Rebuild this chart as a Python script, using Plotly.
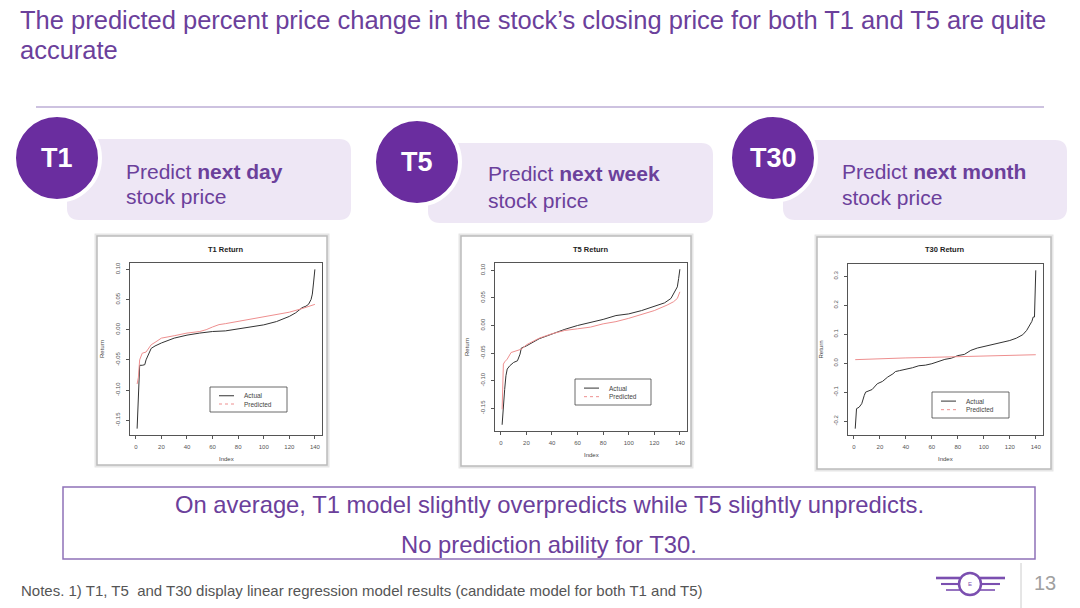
import plotly.graph_objects as go

W, H = 1080, 608
FONT = "Liberation Sans, Arial, Helvetica, sans-serif"
TXT_PURPLE = "#6b409b"
CIRCLE_PURPLE = "#6a2d9f"
PILL_FILL = "#eee7f5"
ACTUAL_COLOR = "#333333"
PRED_COLOR = "#ee8f8f"

# ---------------- data ----------------
t1_actual_idx = [1, 2, 3, 5, 7, 8, 10, 12, 15, 20, 30, 40, 50, 60, 70, 80, 90, 100, 110, 120,
                 125, 130, 133, 135, 137, 138, 139, 140]
t1_actual = [-0.164, -0.090, -0.059, -0.059, -0.058, -0.050, -0.039, -0.031, -0.027, -0.022,
             -0.014, -0.009, -0.0056, -0.003, -0.002, 0.001, 0.0045, 0.008, 0.0135, 0.022,
             0.028, 0.0365, 0.039, 0.042, 0.050, 0.059, 0.079, 0.100]
t1_pred_idx = [1, 2, 3, 5, 8, 10, 12, 15, 20, 30, 40, 50, 55, 60, 65, 70, 80, 90, 100, 110,
               120, 130, 135, 140]
t1_pred = [-0.090, -0.079, -0.050, -0.039, -0.037, -0.031, -0.025, -0.021, -0.014, -0.010,
           -0.0056, -0.003, 0.0, 0.0045, 0.0084, 0.010, 0.014, 0.018, 0.021, 0.025,
           0.029, 0.035, 0.038, 0.042]

t5_actual_idx = [1, 2, 3, 4, 5, 7, 10, 13, 15, 16, 20, 30, 40, 50, 60, 70, 80, 90, 100, 110,
                 120, 128, 133, 136, 138, 139, 140]
t5_actual = [-0.180, -0.140, -0.116, -0.091, -0.079, -0.073, -0.067, -0.064, -0.052, -0.041,
             -0.037, -0.024, -0.015, -0.007, 0.000, 0.005, 0.011, 0.018, 0.021, 0.027,
             0.035, 0.041, 0.049, 0.061, 0.070, 0.085, 0.102]
t5_pred_idx = [1, 2, 3, 5, 8, 12, 16, 20, 30, 40, 50, 60, 70, 80, 90, 100, 110, 120, 130, 135,
               138, 140]
t5_pred = [-0.152, -0.070, -0.066, -0.061, -0.049, -0.046, -0.043, -0.035, -0.023, -0.015,
           -0.009, -0.006, -0.003, 0.003, 0.007, 0.013, 0.0195, 0.027, 0.037, 0.043,
           0.049, 0.061]

t30_actual_idx = [1, 2, 4, 6, 8, 9, 14, 18, 22, 26, 30, 32, 35, 40, 45, 50, 55, 60, 65, 70,
                  75, 80, 85, 90, 95, 100, 110, 120, 125, 130, 133, 135, 137, 138, 139, 140]
t30_actual = [-0.226, -0.157, -0.152, -0.140, -0.111, -0.100, -0.091, -0.071, -0.063, -0.048,
              -0.037, -0.029, -0.026, -0.022, -0.016, -0.009, -0.007, -0.002, 0.006, 0.013,
              0.017, 0.026, 0.030, 0.044, 0.052, 0.057, 0.067, 0.078, 0.086, 0.098,
              0.113, 0.130, 0.144, 0.159, 0.159, 0.320]
t30_pred_idx = [1, 20, 40, 60, 80, 100, 120, 140]
t30_pred = [0.012, 0.016, 0.018, 0.020, 0.022, 0.024, 0.026, 0.029]

x_ticks = [0, 20, 40, 60, 80, 100, 120, 140]
y_ticks_small = [-0.15, -0.10, -0.05, 0.00, 0.05, 0.10]
y_ticklabels_small = ["-0.15", "-0.10", "-0.05", "0.00", "0.05", "0.10"]
y_ticks_t30 = [-0.2, -0.1, 0.0, 0.1, 0.2, 0.3]
y_ticklabels_t30 = ["-0.2", "-0.1", "0.0", "0.1", "0.2", "0.3"]

chart_titles = ["T1 Return", "T5 Return", "T30 Return"]
badges = ["T1", "T5", "T30"]
pill_bold = ["next day", "next week", "next month"]

title_line1 = "The predicted percent price change in the stock\u2019s closing price for both T1 and T5 are quite"
title_line2 = "accurate"
summary_line1 = "On average, T1 model slightly overpredicts while T5 slightly unpredicts."
summary_line2 = "No prediction ability for T30."
notes = "Notes. 1) T1, T5  and T30 display linear regression model results (candidate model for both T1 and T5)"
page_no = "13"


# ---------------- helpers (pixel -> paper) ----------------
def PX(x):
    return x / W


def PY(y):
    return 1 - y / H


def rrect_path(x0, y0, x1, y1, r):
    pts = [
        f"M {PX(x0 + r)},{PY(y0)}",
        f"L {PX(x1 - r)},{PY(y0)}",
        f"Q {PX(x1)},{PY(y0)} {PX(x1)},{PY(y0 + r)}",
        f"L {PX(x1)},{PY(y1 - r)}",
        f"Q {PX(x1)},{PY(y1)} {PX(x1 - r)},{PY(y1)}",
        f"L {PX(x0 + r)},{PY(y1)}",
        f"Q {PX(x0)},{PY(y1)} {PX(x0)},{PY(y1 - r)}",
        f"L {PX(x0)},{PY(y0 + r)}",
        f"Q {PX(x0)},{PY(y0)} {PX(x0 + r)},{PY(y0)}",
        "Z",
    ]
    return " ".join(pts)


shapes = []
annotations = []


def ann(text, x, y, size, color, xanchor="left", yanchor="middle", angle=0):
    annotations.append(dict(
        text=text, x=PX(x), y=PY(y), xref="paper", yref="paper",
        xanchor=xanchor, yanchor=yanchor, showarrow=False, textangle=angle,
        font=dict(family=FONT, size=size, color=color),
    ))


def rect(x0, y0, x1, y1, line_color, line_width, fill="rgba(0,0,0,0)", layer="below"):
    shapes.append(dict(type="rect", xref="paper", yref="paper",
                       x0=PX(x0), x1=PX(x1), y0=PY(y1), y1=PY(y0),
                       line=dict(color=line_color, width=line_width),
                       fillcolor=fill, layer=layer))


def line(x0, y0, x1, y1, color, width, dash="solid", layer="above"):
    shapes.append(dict(type="line", xref="paper", yref="paper",
                       x0=PX(x0), x1=PX(x1), y0=PY(y0), y1=PY(y1),
                       line=dict(color=color, width=width, dash=dash), layer=layer))


# ---------------- header ----------------
ann(title_line1, 18, 20, 25.5, TXT_PURPLE)
ann(title_line2, 18, 50, 25.5, TXT_PURPLE)
line(36, 107, 1044, 107, "#bcaed6", 1.5)

# ---------------- pills with badges ----------------
pill_boxes = [(67, 139, 351, 220), (428, 143, 713, 223), (783, 140, 1067, 220)]
circles = [(57, 158), (417, 162), (773, 158)]
pill_text_pos = [(126, 171, 196), (488, 174, 200), (842, 171, 197)]
for (bx0, by0, bx1, by1), (cx, cy), (tx, ty1, ty2), badge, bold in zip(
        pill_boxes, circles, pill_text_pos, badges, pill_bold):
    shapes.append(dict(type="path", xref="paper", yref="paper",
                       path=rrect_path(bx0, by0, bx1, by1, 12),
                       fillcolor=PILL_FILL, line=dict(width=0), layer="below"))
    r = 43
    shapes.append(dict(type="circle", xref="paper", yref="paper",
                       x0=PX(cx - r), x1=PX(cx + r), y0=PY(cy + r), y1=PY(cy - r),
                       fillcolor=CIRCLE_PURPLE, line=dict(color="white", width=4),
                       layer="below"))
    ann(f"<b>{badge}</b>", cx, cy, 27, "white", xanchor="center")
    ann(f"Predict <b>{bold}</b>", tx - 2, ty1, 21, TXT_PURPLE)
    ann("stock price", tx - 2, ty2, 21, TXT_PURPLE)

# ---------------- chart image boxes ----------------
img_boxes = [(97, 236, 327, 465), (461, 236, 691, 466), (817, 237, 1051, 469)]
for x0, y0, x1, y1 in img_boxes:
    rect(x0 - 1, y0 - 1, x1 + 1, y1 + 1, "#e6e6e6", 3)
    rect(x0, y0, x1, y1, "#bcbcbc", 1.5, fill="white")

# ---------------- small R-style plots ----------------
frames = [(130, 263, 322, 435), (495, 263, 687, 431), (848, 264, 1043, 435)]
series = [
    (t1_actual_idx, t1_actual, t1_pred_idx, t1_pred),
    (t5_actual_idx, t5_actual, t5_pred_idx, t5_pred),
    (t30_actual_idx, t30_actual, t30_pred_idx, t30_pred),
]
ytick_sets = [(y_ticks_small, y_ticklabels_small), (y_ticks_small, y_ticklabels_small),
              (y_ticks_t30, y_ticklabels_t30)]

fig = go.Figure()
layout_axes = {}
for i, ((fx0, fy0, fx1, fy1), (ax_i, ay, px_i, py), (yt, ytl)) in enumerate(
        zip(frames, series, ytick_sets)):
    n = i + 1
    xa = "x" if n == 1 else f"x{n}"
    ya = "y" if n == 1 else f"y{n}"
    fig.add_trace(go.Scatter(x=ax_i, y=ay, mode="lines", name="Actual",
                             line=dict(color=ACTUAL_COLOR, width=1),
                             xaxis=xa, yaxis=ya, showlegend=False))
    fig.add_trace(go.Scatter(x=px_i, y=py, mode="lines", name="Predicted",
                             line=dict(color=PRED_COLOR, width=1),
                             xaxis=xa, yaxis=ya, showlegend=False))
    # R default range: data range extended by 4%
    all_x = ax_i + px_i
    all_y = ay + py
    xmin, xmax = min(all_x), max(all_x)
    ymin, ymax = min(all_y), max(all_y)
    dx = (xmax - xmin) * 0.04
    dy = (ymax - ymin) * 0.04
    axis_common = dict(showline=True, mirror=True, linecolor="#555555", linewidth=1,
                       ticks="outside", ticklen=3, tickwidth=0.8, tickcolor="#555555",
                       showgrid=False, zeroline=False,
                       tickfont=dict(family=FONT, size=6, color="#555555"))
    layout_axes["xaxis" if n == 1 else f"xaxis{n}"] = dict(
        domain=[PX(fx0), PX(fx1)], anchor=ya, range=[xmin - dx, xmax + dx],
        tickmode="array", tickvals=x_ticks, ticktext=[str(v) for v in x_ticks],
        ticklabelstandoff=3, **axis_common)
    layout_axes["yaxis" if n == 1 else f"yaxis{n}"] = dict(
        domain=[PY(fy1), PY(fy0)], anchor=xa, range=[ymin - dy, ymax + dy],
        tickmode="array", tickvals=yt, ticktext=ytl, tickangle=-90,
        ticklabelstandoff=4, **axis_common)

    cxm = (fx0 + fx1) / 2
    ann(f"<b>{chart_titles[i]}</b>", cxm - 1, 249, 7.5, "#222222", xanchor="center")
    ann("Index", cxm, fy1 + 24, 6, "#444444", xanchor="center")
    ann("Return", fx0 - 28, (fy0 + fy1) / 2, 6, "#444444", xanchor="center", angle=-90)

# legends (R-style boxes)
legend_boxes = [(210, 387, 287, 412), (575, 379, 651, 405), (932, 392, 1009, 418)]
for lx0, ly0, lx1, ly1 in legend_boxes:
    rect(lx0, ly0, lx1, ly1, "#444444", 0.8, fill="white", layer="above")
    yA = ly0 + (ly1 - ly0) * 0.35
    yP = ly0 + (ly1 - ly0) * 0.68
    line(lx0 + 9, yA, lx0 + 24, yA, ACTUAL_COLOR, 1)
    line(lx0 + 9, yP, lx0 + 24, yP, PRED_COLOR, 1, dash="dot")
    ann("Actual", lx0 + 32, yA, 6.5, "#444444")
    ann("Predicted", lx0 + 32, yP, 6.5, "#444444")

# ---------------- summary box ----------------
rect(63, 487, 1035, 559, "#8e72b8", 1.5)
ann(summary_line1, 549, 504, 23.8, TXT_PURPLE, xanchor="center")
ann(summary_line2, 549, 544, 23.8, TXT_PURPLE, xanchor="center")

# ---------------- footer ----------------
ann(notes, 19, 590, 15, "#555555")
line(1021, 563, 1021, 608, "#cccccc", 1)
ann(page_no, 1045, 583, 20, "#a0a0a0", xanchor="center")

# logo: winged circle
lc_x, lc_y, lr = 970, 584, 11
for k, (yy, inset) in enumerate([(578, 0), (584, 5), (590, 10)]):
    line(936 + inset, yy, lc_x - lr + 1, yy, "#7b4fb0", 2.6 - k * 0.5)
    line(lc_x + lr - 1, yy, 1005 - inset, yy, "#7b4fb0", 2.6 - k * 0.5)
shapes.append(dict(type="circle", xref="paper", yref="paper",
                   x0=PX(lc_x - lr), x1=PX(lc_x + lr), y0=PY(lc_y + lr), y1=PY(lc_y - lr),
                   fillcolor="white", line=dict(color="#7b4fb0", width=2.5), layer="above"))
ann("E", lc_x, lc_y, 6, "#7b4fb0", xanchor="center")

fig.update_layout(
    width=W, height=H, margin=dict(l=0, r=0, t=0, b=0),
    paper_bgcolor="white", plot_bgcolor="rgba(0,0,0,0)",
    showlegend=False, shapes=shapes, annotations=annotations,
    **layout_axes,
)

fig.write_html("out.html")
